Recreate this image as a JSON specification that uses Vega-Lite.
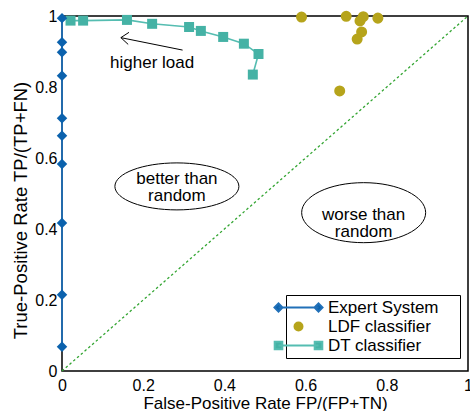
{
  "$schema": "https://vega.github.io/schema/vega-lite/v6.json",
  "width": 406,
  "height": 355,
  "autosize": {"type": "none"},
  "padding": {"left": 62, "top": 16, "right": 2, "bottom": 40},
  "background": "white",
  "config": {
    "view": {"stroke": "black", "strokeWidth": 1.5},
    "font": "Liberation Sans",
    "axis": {
      "grid": false, "domain": false, "tickSize": 0, "ticks": true,
      "tickColor": "black", "tickWidth": 1.3,
      "labelFont": "Liberation Sans", "labelFontSize": 16, "labelColor": "black",
      "labelFlush": false, "labelOverlap": false, "labelBound": false,
      "titleFont": "Liberation Sans", "titleFontSize": 17, "titleFontWeight": "normal", "titleColor": "black"
    },
    "legend": {
      "symbolOpacity": 1, "labelFont": "Liberation Sans", "labelFontSize": 17, "labelColor": "black"
    }
  },
  "datasets": {
    "roc": [
      {"series": "Expert System", "fpr": 0, "tpr": 0.068, "seq": 1},
      {"series": "Expert System", "fpr": 0, "tpr": 0.215, "seq": 2},
      {"series": "Expert System", "fpr": 0, "tpr": 0.417, "seq": 3},
      {"series": "Expert System", "fpr": 0, "tpr": 0.583, "seq": 4},
      {"series": "Expert System", "fpr": 0, "tpr": 0.663, "seq": 5},
      {"series": "Expert System", "fpr": 0, "tpr": 0.712, "seq": 6},
      {"series": "Expert System", "fpr": 0, "tpr": 0.832, "seq": 7},
      {"series": "Expert System", "fpr": 0, "tpr": 0.898, "seq": 8},
      {"series": "Expert System", "fpr": 0, "tpr": 0.926, "seq": 9},
      {"series": "Expert System", "fpr": 0, "tpr": 0.994, "seq": 10},
      {"series": "DT classifier", "fpr": 0.021, "tpr": 0.987, "seq": 1},
      {"series": "DT classifier", "fpr": 0.052, "tpr": 0.987, "seq": 2},
      {"series": "DT classifier", "fpr": 0.16, "tpr": 0.989, "seq": 3},
      {"series": "DT classifier", "fpr": 0.222, "tpr": 0.978, "seq": 4},
      {"series": "DT classifier", "fpr": 0.313, "tpr": 0.969, "seq": 5},
      {"series": "DT classifier", "fpr": 0.342, "tpr": 0.958, "seq": 6},
      {"series": "DT classifier", "fpr": 0.397, "tpr": 0.941, "seq": 7},
      {"series": "DT classifier", "fpr": 0.448, "tpr": 0.922, "seq": 8},
      {"series": "DT classifier", "fpr": 0.484, "tpr": 0.893, "seq": 9},
      {"series": "DT classifier", "fpr": 0.47, "tpr": 0.835, "seq": 10},
      {"series": "LDF classifier", "fpr": 0.59, "tpr": 0.997, "seq": 1},
      {"series": "LDF classifier", "fpr": 0.7, "tpr": 0.999, "seq": 2},
      {"series": "LDF classifier", "fpr": 0.742, "tpr": 0.998, "seq": 3},
      {"series": "LDF classifier", "fpr": 0.734, "tpr": 0.986, "seq": 4},
      {"series": "LDF classifier", "fpr": 0.778, "tpr": 0.994, "seq": 5},
      {"series": "LDF classifier", "fpr": 0.738, "tpr": 0.955, "seq": 6},
      {"series": "LDF classifier", "fpr": 0.727, "tpr": 0.935, "seq": 7},
      {"series": "LDF classifier", "fpr": 0.684, "tpr": 0.789, "seq": 8}
    ],
    "diag": [{"fpr": 0, "tpr": 0}, {"fpr": 1, "tpr": 1}],
    "notes": [
      {"kind": "better", "x": 0.283, "y": 0.52, "label": "better than\nrandom", "ty": 0.541},
      {"kind": "worse", "x": 0.743, "y": 0.446, "label": "worse than\nrandom", "ty": 0.439},
      {"kind": "load", "x": 0.222, "y": 0.868, "label": "higher load", "ty": 0.868}
    ],
    "arrow": [
      {"x": 0.297, "y": 0.904, "x2": 0.145, "y2": 0.939},
      {"x": 0.145, "y": 0.939, "x2": 0.165, "y2": 0.954},
      {"x": 0.145, "y": 0.939, "x2": 0.163, "y2": 0.92}
    ]
  },
  "resolve": {"axis": {"x": "independent", "y": "independent"}},
  "layer": [
    {
      "data": {"name": "diag"},
      "mark": {"type": "line", "color": "#33a532", "strokeWidth": 1.3, "strokeDash": [2.5, 2.5]},
      "encoding": {
        "x": {"field": "fpr", "type": "quantitative", "scale": {"domain": [0, 1], "nice": false},
          "axis": {"orient": "bottom", "values": [0, 0.1, 0.2, 0.3, 0.4, 0.5, 0.6, 0.7, 0.8, 0.9, 1], "format": "~g",
            "labelExpr": "round(datum.value*10) % 2 == 0 ? datum.label : ''", "labelPadding": 6,
            "title": "False-Positive Rate FP/(FP+TN)", "titlePadding": 2,
            "encode": {"ticks": {"update": {"y2": {"signal": "round(datum.value*10) % 2 == 0 ? -10 : -5"}}}}}},
        "y": {"field": "tpr", "type": "quantitative", "scale": {"domain": [0, 1], "nice": false},
          "axis": {"orient": "left", "values": [0, 0.1, 0.2, 0.3, 0.4, 0.5, 0.6, 0.7, 0.8, 0.9, 1], "format": "~g",
            "labelExpr": "round(datum.value*10) % 2 == 0 ? datum.label : ''", "labelPadding": 5,
            "title": "True-Positive Rate TP/(TP+FN)", "titlePadding": 4, "titleFontSize": 18.5, "titleY": 194,
            "encode": {"ticks": {"update": {"x2": {"signal": "round(datum.value*10) % 2 == 0 ? 10 : 5"}}}}}}
      }
    },
    {
      "data": {"name": "roc"},
      "transform": [{"filter": "datum.series == 'DT classifier'"}],
      "mark": {"type": "line", "color": "#55bdb1", "strokeWidth": 1.6},
      "encoding": {
        "x": {"field": "fpr", "type": "quantitative", "scale": {"domain": [0, 1], "nice": false}, "axis": null},
        "y": {"field": "tpr", "type": "quantitative", "scale": {"domain": [0, 1], "nice": false}, "axis": null},
        "order": {"field": "seq", "type": "quantitative"}
      }
    },
    {
      "data": {"name": "roc"},
      "transform": [{"filter": "datum.series == 'DT classifier'"}],
      "mark": {"type": "point", "shape": "square", "filled": true, "size": 100, "color": "#45b2a5", "opacity": 1},
      "encoding": {
        "x": {"field": "fpr", "type": "quantitative", "axis": null},
        "y": {"field": "tpr", "type": "quantitative", "axis": null}
      }
    },
    {
      "data": {"name": "roc"},
      "transform": [{"filter": "datum.series == 'Expert System'"}],
      "mark": {"type": "line", "color": "#2170b8", "strokeWidth": 1.8},
      "encoding": {
        "x": {"field": "fpr", "type": "quantitative",
          "axis": {"orient": "top", "values": [0, 0.1, 0.2, 0.3, 0.4, 0.5, 0.6, 0.7, 0.8, 0.9, 1], "labels": false, "title": null,
            "encode": {"ticks": {"update": {"y2": {"signal": "round(datum.value*10) % 2 == 0 ? 10 : 5"}}}}}},
        "y": {"field": "tpr", "type": "quantitative",
          "axis": {"orient": "right", "values": [0, 0.1, 0.2, 0.3, 0.4, 0.5, 0.6, 0.7, 0.8, 0.9, 1], "labels": false, "title": null,
            "encode": {"ticks": {"update": {"x2": {"signal": "round(datum.value*10) % 2 == 0 ? -10 : -5"}}}}}},
        "order": {"field": "seq", "type": "quantitative"}
      }
    },
    {
      "data": {"name": "roc"},
      "transform": [{"filter": "datum.series == 'Expert System'"}],
      "mark": {"type": "point", "shape": "diamond", "filled": true, "size": 110, "color": "#0b62ad", "opacity": 1},
      "encoding": {
        "x": {"field": "fpr", "type": "quantitative", "axis": null},
        "y": {"field": "tpr", "type": "quantitative", "axis": null}
      }
    },
    {
      "data": {"name": "roc"},
      "transform": [{"filter": "datum.series == 'LDF classifier'"}],
      "mark": {"type": "point", "filled": true, "size": 127, "strokeWidth": 2, "opacity": 1},
      "encoding": {
        "x": {"field": "fpr", "type": "quantitative", "axis": null},
        "y": {"field": "tpr", "type": "quantitative", "axis": null},
        "color": {"field": "series", "type": "nominal",
          "scale": {"domain": ["Expert System", "LDF classifier", "DT classifier"], "range": ["#0b62ad", "#b6a41b", "#45b2a5"]},
          "legend": {"orient": "none", "legendX": 224, "legendY": 279, "title": null, "symbolSize": 100, "symbolStrokeWidth": 2,
            "labelOffset": 21, "rowPadding": 1, "padding": 4, "strokeColor": "black", "fillColor": "white", "symbolOpacity": 1}},
        "stroke": {"field": "series", "type": "nominal",
          "scale": {"domain": ["Expert System", "LDF classifier", "DT classifier"], "range": ["#2170b8", "#b6a41b", "#55bdb1"]},
          "legend": {"orient": "none", "legendX": 224, "legendY": 279, "title": null, "symbolSize": 100, "symbolStrokeWidth": 2,
            "labelOffset": 21, "rowPadding": 1, "padding": 4, "strokeColor": "black", "fillColor": "white", "symbolOpacity": 1}},
        "shape": {"field": "series", "type": "nominal",
          "scale": {"domain": ["Expert System", "LDF classifier", "DT classifier"],
            "range": [
              "M -4 0 L 4 0 M -4.8 0 L -4 -0.8 L -3.2 0 L -4 0.8 Z M 3.2 0 L 4 -0.8 L 4.8 0 L 4 0.8 Z M -5.34 0 M 30.7 0",
              "M -0.8 0 A 0.8 0.8 0 1 0 0.8 0 A 0.8 0.8 0 1 0 -0.8 0 Z",
              "M -4 0 L 4 0 M -4.76 -0.76 L -3.24 -0.76 L -3.24 0.76 L -4.76 0.76 Z M 3.24 -0.76 L 4.76 -0.76 L 4.76 0.76 L 3.24 0.76 Z"
            ]},
          "legend": {"orient": "none", "legendX": 224, "legendY": 279, "title": null, "symbolSize": 100, "symbolStrokeWidth": 2,
            "labelOffset": 21, "rowPadding": 1, "padding": 4, "strokeColor": "black", "fillColor": "white", "symbolOpacity": 1}}
      }
    },
    {
      "data": {"name": "notes"},
      "transform": [{"filter": "datum.kind == 'better'"}],
      "mark": {"type": "point", "shape": "M -1 0 A 1 0.379 0 1 0 1 0 A 1 0.379 0 1 0 -1 0 Z", "size": 15376, "filled": false, "stroke": "black", "strokeWidth": 1, "opacity": 1},
      "encoding": {
        "x": {"field": "x", "type": "quantitative", "axis": null},
        "y": {"field": "y", "type": "quantitative", "axis": null}
      }
    },
    {
      "data": {"name": "notes"},
      "transform": [{"filter": "datum.kind == 'worse'"}],
      "mark": {"type": "point", "shape": "M -1 0 A 1 0.484 0 1 0 1 0 A 1 0.484 0 1 0 -1 0 Z", "size": 15376, "filled": false, "stroke": "black", "strokeWidth": 1, "opacity": 1},
      "encoding": {
        "x": {"field": "x", "type": "quantitative", "axis": null},
        "y": {"field": "y", "type": "quantitative", "axis": null}
      }
    },
    {
      "data": {"name": "notes"},
      "mark": {"type": "text", "font": "Liberation Sans", "fontSize": 17, "align": "center", "baseline": "middle", "lineBreak": "\n", "lineHeight": 17, "color": "black"},
      "encoding": {
        "x": {"field": "x", "type": "quantitative", "axis": null},
        "y": {"field": "ty", "type": "quantitative", "axis": null},
        "text": {"field": "label"}
      }
    },
    {
      "data": {"name": "arrow"},
      "mark": {"type": "rule", "color": "black", "strokeWidth": 1},
      "encoding": {
        "x": {"field": "x", "type": "quantitative", "axis": null},
        "y": {"field": "y", "type": "quantitative", "axis": null},
        "x2": {"field": "x2"},
        "y2": {"field": "y2"}
      }
    }
  ]
}
